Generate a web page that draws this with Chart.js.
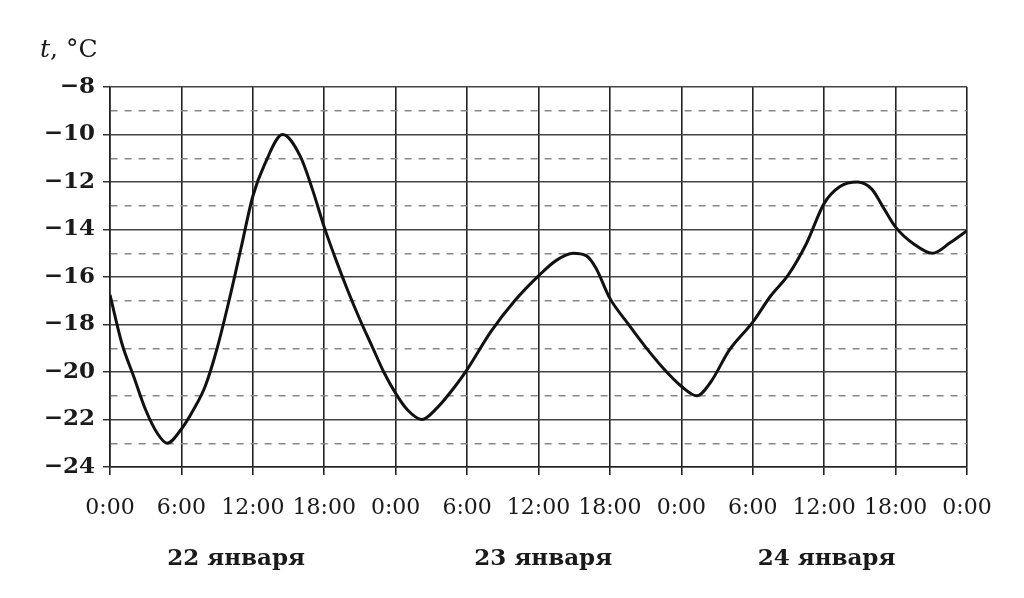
<!DOCTYPE html>
<html>
<head>
<meta charset="utf-8">
<script src="https://cdn.jsdelivr.net/npm/chart.js@4"></script>
<style>body{margin:0;background:#fff}</style>
</head>
<body>
<canvas id="Chart" width="1024" height="598"></canvas>
<script>
// hours since 0:00 22 Jan and the temperature at that moment
const hours = [0, 1, 2, 3, 4, 4.8, 6, 7, 8, 9, 10, 11, 12, 13, 14.5, 16, 17, 18, 19, 20,
    21, 22, 23, 24, 25, 26.2, 27.5, 29, 30, 32, 34, 36, 37.5, 38.9, 40, 40.8, 42, 43.5, 45, 46.5, 48,
    49.3, 50.5, 52, 54, 55.5, 57, 58.5, 60, 61.3, 62.8, 64, 65, 66, 67.5, 69.1, 70.6, 72]
const temps = [-16.75, -18.8, -20.2, -21.6, -22.6, -23, -22.4, -21.6, -20.6, -19, -17, -14.8, -12.6, -11.25, -10, -10.93, -12.3, -13.9, -15.3, -16.6,
    -17.8, -18.9, -20, -20.9, -21.6, -22, -21.5, -20.6, -19.9, -18.3, -17, -15.95, -15.3, -15, -15.1, -15.6, -16.9, -17.95, -18.95, -19.85, -20.6,
    -21, -20.4, -19.1, -17.9, -16.8, -15.9, -14.6, -12.9, -12.2, -12, -12.3, -13.1, -13.9, -14.6, -15, -14.55, -14.05]
const days = ['22 января', '23 января', '24 января']

const serif = '"DejaVu Serif", serif'

//title of the y axis and day names under the time axis
const extraText = {
    id: 'extraText',
    afterDraw(chart) {
        const ctx = chart.ctx
        const x = chart.scales.x
        ctx.save()
        ctx.fillStyle = '#1a1a1a'
        ctx.textBaseline = 'alphabetic'
        ctx.textAlign = 'left'
        ctx.font = 'italic 25px ' + serif
        ctx.fillText('t', 40, 57)
        let w = ctx.measureText('t').width
        ctx.font = '25px ' + serif
        ctx.fillText(', °C', 40 + w, 57)
        ctx.font = 'bold 23px ' + serif
        ctx.textAlign = 'center'
        const centers = [10.6, 36.4, 60.2]
        days.forEach((d, i) => {
            ctx.fillText(d, x.getPixelForValue(centers[i]), 565)
        })
        ctx.restore()
    }
}

const ctx = document.getElementById('Chart').getContext('2d')
const myChart = new Chart(ctx, {
    type: 'line',
    data: {
        datasets: [{
            data: hours.map((h, i) => ({x: h, y: temps[i]})),
            borderColor: '#111',
            borderWidth: 3,
            pointRadius: 0,
            cubicInterpolationMode: 'monotone',
            fill: false
        }]
    },
    options: {
        responsive: false,
        animation: false,
        layout: {padding: {top: 87, right: 57, left: 0, bottom: 0}},
        plugins: {legend: {display: false}, tooltip: {enabled: false}},
        scales: {
            x: {
                type: 'linear',
                min: 0,
                max: 72,
                afterFit: (s) => { s.height = 131 },
                ticks: {
                    stepSize: 6,
                    autoSkip: false,
                    maxRotation: 0,
                    color: '#1a1a1a',
                    padding: 20,
                    font: {family: serif, size: 22},
                    callback: (v) => (v % 24) + ':00'
                },
                grid: {color: '#222', lineWidth: 1.6, tickLength: 8, tickColor: '#222'},
                border: {color: '#222', width: 1.6}
            },
            y: {
                min: -24,
                max: -8,
                afterFit: (s) => { s.width = 110 },
                ticks: {
                    stepSize: 1,
                    autoSkip: false,
                    color: '#1a1a1a',
                    padding: 8,
                    font: {family: serif, size: 23, weight: 'bold'},
                    callback: (v) => v % 2 === 0 ? String(v).replace('-', '\u2212') : ''
                },
                grid: {
                    color: (c) => c.tick && c.tick.value % 2 !== 0 ? '#888' : '#444',
                    lineWidth: 1.5,
                    tickLength: 7,
                    tickColor: (c) => c.tick && c.tick.value % 2 !== 0 ? 'rgba(0,0,0,0)' : '#333'
                },
                border: {
                    color: '#222',
                    width: 1.6,
                    dash: (c) => c.tick && c.tick.value % 2 !== 0 ? [7, 7] : []
                }
            }
        }
    },
    plugins: [extraText]
})
</script>
</body>
</html>
